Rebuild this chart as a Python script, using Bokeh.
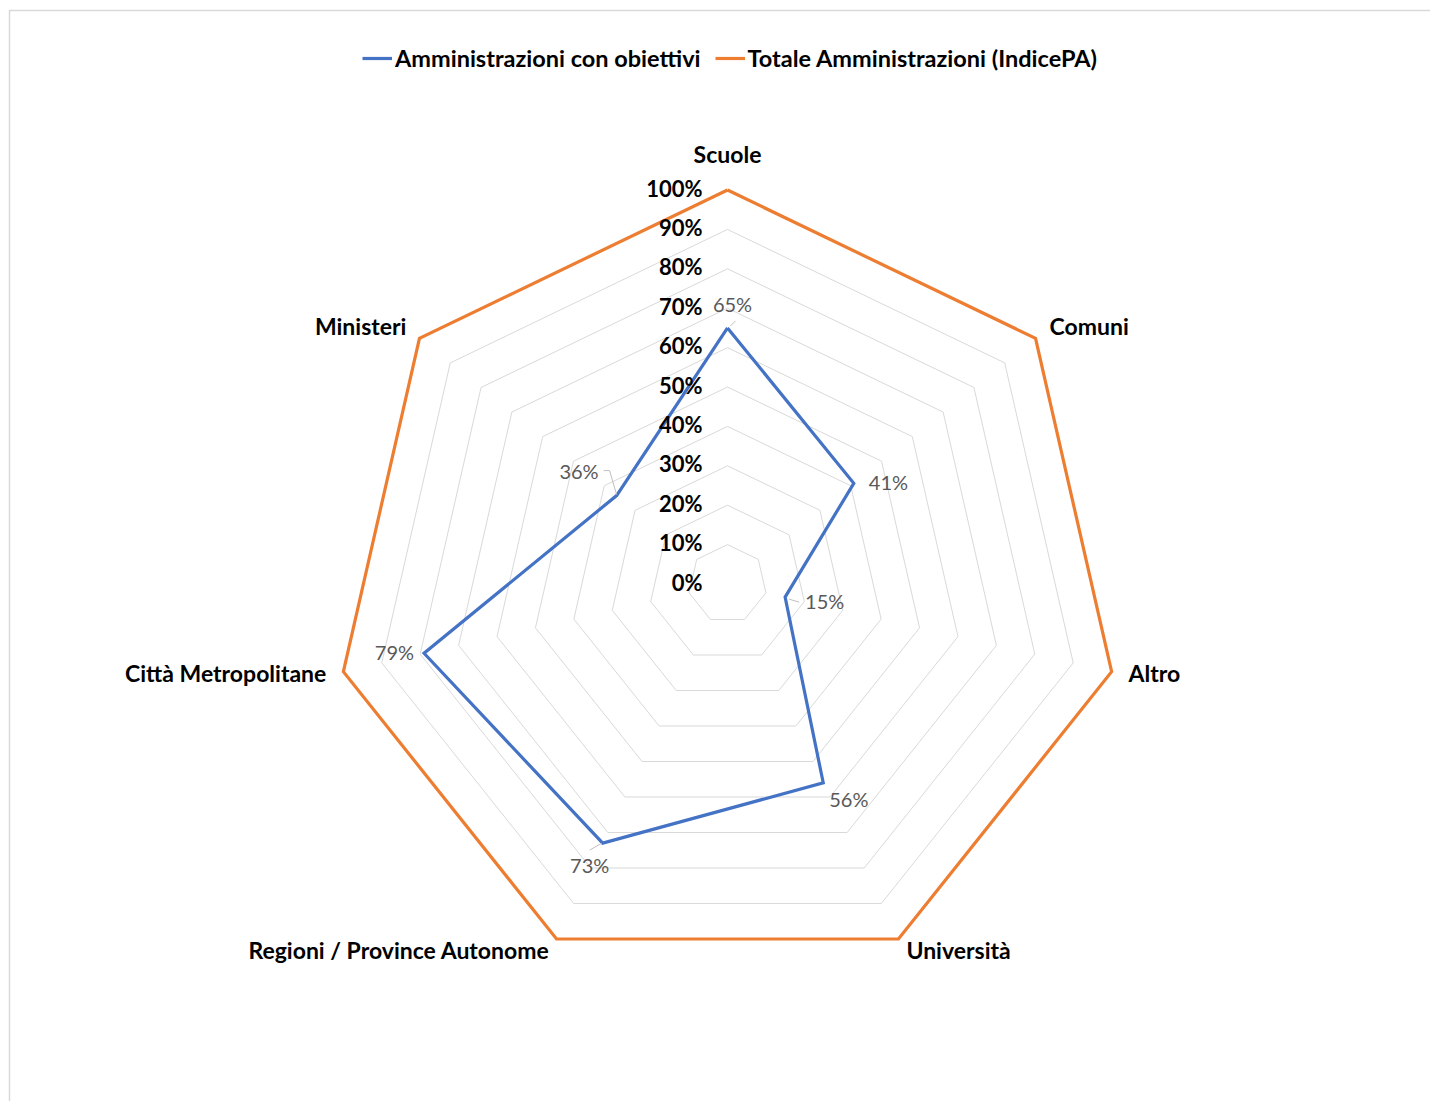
import math
from bokeh.plotting import figure
from bokeh.models import Range1d, Legend, LegendItem
from bokeh.core.properties import value
from bokeh.embed import file_html
from bokeh.resources import INLINE

# ---------------- data ----------------
categories = ["Scuole", "Comuni", "Altro", "Università",
              "Regioni / Province Autonome", "Città Metropolitane", "Ministeri"]
obiettivi = [65, 41, 15, 56, 73, 79, 36]
totale = [100, 100, 100, 100, 100, 100, 100]
tick_values = [0, 10, 20, 30, 40, 50, 60, 70, 80, 90, 100]
tick_labels = ["0%", "10%", "20%", "30%", "40%", "50%", "60%", "70%", "80%", "90%", "100%"]
series_names = ["Amministrazioni con obiettivi", "Totale Amministrazioni (IndicePA)"]

# ---------------- layout / style ----------------
W, H = 1430, 1101
R = 394.0              # pixels for 100 %
CX, CY = 727.0, 583.5  # centre of the radar, px from figure top-left
FONT = "Lato"
BLUE, ORANGE, GRID = "#4472C4", "#ED7D31", "#D9D9D9"
n = len(categories)
vmax = float(tick_values[-1])


def polar(v, k):
    th = 2 * math.pi * k / n
    r = v / vmax
    return r * math.sin(th), r * math.cos(th)


p = figure(width=W, height=H, output_backend="svg", toolbar_location=None,
           min_border=0, x_axis_type=None, y_axis_type=None,
           x_range=Range1d(-CX / R, (W - CX) / R),
           y_range=Range1d(-(H - CY) / R, CY / R))
p.grid.visible = False
p.outline_line_color = None
p.background_fill_color = "white"
p.border_fill_color = "white"

# chart-area border (top and left edges visible)
bx0 = (9 - CX) / R
by0 = (CY - 10) / R
p.line([bx0, bx0, (W - CX + 20) / R], [-(H - CY + 20) / R, by0, by0],
       line_color=GRID, line_width=1.5)

# grid heptagons
gxs, gys = [], []
for t in tick_values[1:-1]:
    pts = [polar(t, k) for k in range(n)] + [polar(t, 0)]
    gxs.append([q[0] for q in pts])
    gys.append([q[1] for q in pts])
p.multi_line(gxs, gys, line_color=GRID, line_width=1)


def closed(vals):
    pts = [polar(v, k) for k, v in enumerate(vals)] + [polar(vals[0], 0)]
    return [q[0] for q in pts], [q[1] for q in pts]


tx, ty = closed(totale)
r_tot = p.line(tx, ty, line_color=ORANGE, line_width=3.2, line_join="miter")
ox, oy = closed(obiettivi)
r_obj = p.line(ox, oy, line_color=BLUE, line_width=3.2, line_join="miter")

# radial axis tick labels
p.text(x=[-25 / R] * len(tick_values), y=[t / vmax + 2 / R for t in tick_values],
       text=tick_labels, text_align="right", text_baseline="middle",
       text_font=value(FONT), text_font_style="bold", text_font_size="22px",
       text_color="#000000")

# category labels (offsets in px from each outer vertex; screen y down)
cat_off = [(0, -36, "center"), (14, -12, "left"), (17, 1, "left"), (8, 11, "left"),
           (-7, 11, "right"), (-17, 1, "right"), (-13, -12, "right")]
for k, c in enumerate(categories):
    vx, vy = polar(totale[k], k)
    dx, dy, al = cat_off[k]
    p.text(x=[vx + dx / R], y=[vy - dy / R], text=[c], text_align=al,
           text_baseline="middle", text_font=value(FONT), text_font_style="bold",
           text_font_size="23px", text_color="#000000")

# data labels (offsets in px from the point; screen y down)
lab_off = [(5, -24, "center"), (15, -1, "left"), (20, 4, "left"), (6, 16, "left"),
           (-13, 22, "center"), (-10, -1, "right"), (-18, -25, "right")]
for k, v in enumerate(obiettivi):
    px_, py_ = polar(v, k)
    dx, dy, al = lab_off[k]
    p.text(x=[px_ + dx / R], y=[py_ - dy / R], text=[f"{v}%"], text_align=al,
           text_baseline="middle", text_font=value(FONT), text_font_size="20px",
           text_color="#595959")

# leader lines (px offsets relative to the data point)
leaders = {0: [(3, -2), (8, -7)], 2: [(4, 2), (14, 5)],
           4: [(-1, 0), (-13, 7)], 6: [(0, -1), (-7, -25), (-13, -25)]}
lxs, lys = [], []
for k, segs in leaders.items():
    px_, py_ = polar(obiettivi[k], k)
    lxs.append([px_ + a / R for a, b in segs])
    lys.append([py_ - b / R for a, b in segs])
p.multi_line(lxs, lys, line_color="#BFBFBF", line_width=1)

# legend
legend = Legend(items=[LegendItem(label=series_names[0], renderers=[r_obj]),
                       LegendItem(label=series_names[1], renderers=[r_tot])],
                orientation="horizontal", location=(362, H - 72),
                margin=0, padding=0, spacing=14, glyph_width=30, glyph_height=20,
                label_height=20, label_standoff=3,
                label_text_font=FONT, label_text_font_style="bold",
                label_text_font_size="23.5px", label_text_color="#000000",
                border_line_color=None, background_fill_alpha=0)
p.add_layout(legend)

open("out.html", "w").write(file_html(p, INLINE))
